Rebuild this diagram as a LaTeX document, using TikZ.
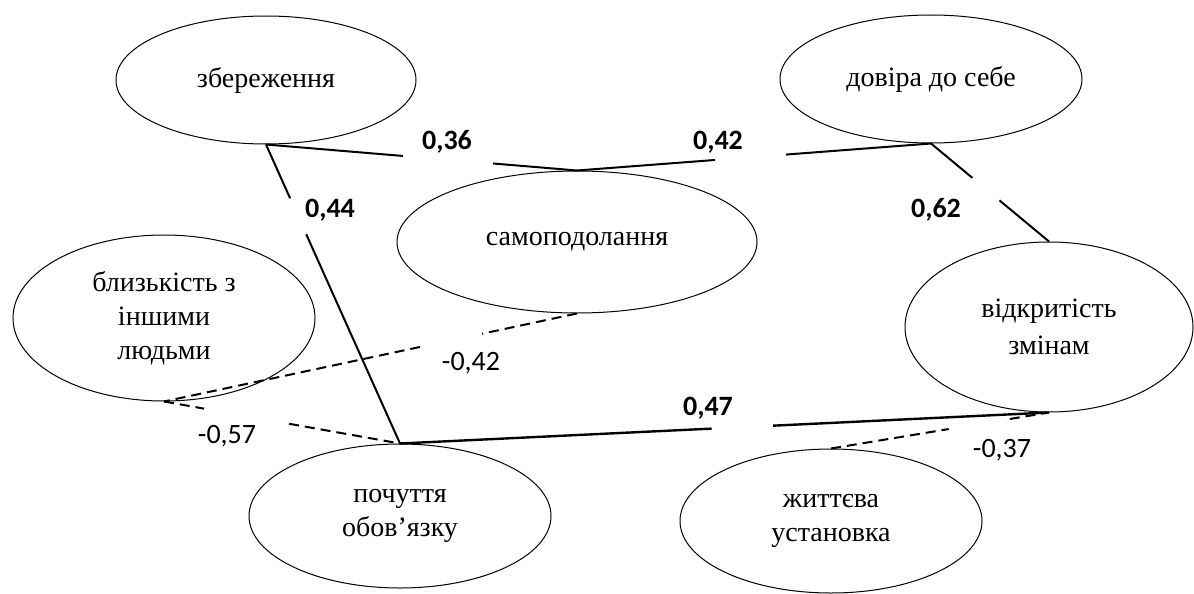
\documentclass[tikz,border=0pt]{standalone}
\usepackage{fontspec}
\setmainfont{Liberation Serif}
\newfontfamily\labfont{Carlito}
\usetikzlibrary{shapes.geometric,calc}
\begin{document}
\begin{tikzpicture}[x=1pt,y=-1pt,
  val/.style={ellipse,draw,line width=1pt,inner sep=0pt,align=center,font=\fontsize{28}{34}\selectfont},
  conn/.style={line width=2pt},
  neg/.style={line width=2pt,dash pattern=on 10pt off 6pt},
  lbl/.style={inner sep=0pt,font=\labfont\fontsize{28}{32}\selectfont},
  blbl/.style={inner sep=0pt,font=\labfont\bfseries\fontsize{28}{32}\selectfont}]
\useasboundingbox (0,0) rectangle (1194,594);

% values
\node[val,minimum width=300pt,minimum height=128pt] (z) at (266,80) {збереження};
\node[val,minimum width=302pt,minimum height=128pt] (d) at (931,79) {довіра до себе};
\node[val,minimum width=360pt,minimum height=142pt] (s) at (577,242) {самоподолання};
\node[val,minimum width=302pt,minimum height=166pt] (b) at (164,318) {близькість з\\іншими\\людьми};
\node[val,minimum width=288pt,minimum height=170pt,font=\fontsize{28}{37}\selectfont] (v) at (1049,327) {відкритість\\змінам};
\node[val,minimum width=302pt,minimum height=144pt] (p) at (400,516) {почуття\\обов’язку};
\node[val,minimum width=302pt,minimum height=144pt] (l) at (831,521) {життєва\\установка};

% positive links
\draw[conn] (z.south) -- ($(z.south)!0.44!(s.north)$);
\draw[conn] ($(z.south)!0.73!(s.north)$) -- (s.north);
\node[blbl] (t036) at (447,142) {0,36};

\draw[conn] (s.north) -- ($(s.north)!0.39!(d.south)$);
\draw[conn] ($(s.north)!0.59!(d.south)$) -- (d.south);
\node[blbl] (t042) at (718,142) {0,42};

\draw[conn] (d.south) -- ($(d.south)!0.35!(v.north)$);
\draw[conn] ($(d.south)!0.58!(v.north)$) -- (v.north);
\node[blbl] (t062) at (936,210) {0,62};

\draw[conn] (z.south) -- ($(z.south)!0.18!(p.north)$);
\draw[conn] ($(z.south)!0.30!(p.north)$) -- (p.north);
\node[blbl] (t044) at (330,210) {0,44};

\draw[conn,line width=2.4pt] (p.north) -- ($(p.north)!0.48!(v.south)$);
\draw[conn,line width=2.4pt] ($(p.north)!0.575!(v.south)$) -- (v.south);
\node[blbl] (t047) at (708,408) {0,47};

% negative links
\draw[neg] (s.south) -- ($(s.south)!0.23!(b.south)$);
\draw[neg] ($(s.south)!0.38!(b.south)$) -- (b.south);
\node[lbl] (n042) at (471,363) {-0,42};

\draw[neg] (b.south) -- ($(b.south)!0.17!(p.north)$);
\draw[neg] ($(b.south)!0.53!(p.north)$) -- (p.north);
\node[lbl] (n057) at (227,436) {-0,57};

\draw[neg] (l.north) -- ($(l.north)!0.54!(v.south)$);
\draw[neg] ($(l.north)!0.82!(v.south)$) -- (v.south);
\node[lbl] (n037) at (1002,450) {-0,37};
\end{tikzpicture}
\end{document}
